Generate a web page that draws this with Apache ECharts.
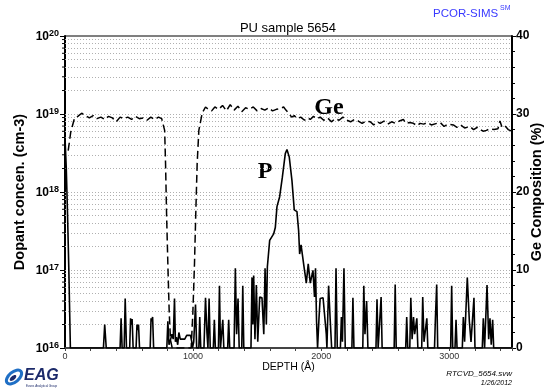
<!DOCTYPE html>
<html>
<head>
<meta charset="utf-8">
<script src="https://cdn.jsdelivr.net/npm/echarts@6/dist/echarts.min.js"></script>
<style>
html,body{margin:0;padding:0;background:#fff;}
#chart{width:548px;height:389px;}
</style>
</head>
<body>
<div id="chart"></div>
<script>
// ---- Data ----
// Phosphorus concentration profile (atoms/cm3) vs depth (Å)
const pDepth = [0,10,20,30,42,300,310,322,430,438,446,462,470,480,505,512,518,524,532,555,562,568,574,582,665,672,678,684,692,795,803,812,825,835,845,855,862,870,880,889,900,915,935,950,965,980,990,
995,1005,1019,1028,1045,1052,1060,1085,1097,1108,1116,1125,1134,1158,1166,1174,1198,1206,1214,1225,1232,1240,1270,1278,1286,1320,1330,1340,1351,1360,1380,1388,1396,
1452,1460,1467,1473,1483,1494,1505,1520,1530,1538,1546,1552,1562,1572,1580,1598,1629,1642,1655,1676,1697,1720,1733,1751,1772,1790,1800,1811,1824,1832,1843,1863,1884,1899,1915,1936,1948,1956,1964,1972,1983,1992,2005,2015,2028,2040,
2045,2058,2070,2082,2108,2116,2126,2150,2158,2166,2178,2188,2240,2248,2256,2325,2333,2342,2355,2365,2428,2436,2445,2460,2468,2476,2570,2578,2586,
2660,2668,2676,2692,2700,2710,2721,2730,2747,2755,2785,2793,2803,2825,2833,2885,2892,2902,2910,3011,3019,3027,3045,3053,3061,
3102,3110,3120,3141,3157,3170,3193,3201,3258,3266,3276,3295,3308,3318,3328,3339,3347,3490];
const pConc = [5e18,2e18,5e17,1e17,1e16,1e16,2e16,1e16,1e16,2.4e16,1e16,1e16,4.3e16,1e16,1e16,2.4e16,2.0e16,2.35e16,1e16,1e16,2e16,1.7e16,2e16,1e16,1e16,2.4e16,2.2e16,2.5e16,1e16,1e16,2.2e16,1.1e16,1.3e16,1.5e16,1.3e16,4.3e16,1.2e16,1.38e16,1.1e16,1.58e16,1.3e16,1.3e16,1.3e16,1.45e16,1.45e16,1.45e16,1.2e16,
1e16,1.2e16,3.6e16,1e16,1e16,2.5e16,1e16,1e16,4.4e16,1.6e16,1e16,4.3e16,1e16,1e16,2.3e16,1e16,1e16,6.3e16,1e16,1e16,2.3e16,1e16,1e16,2.3e16,1e16,1e16,1.05e17,1.5e16,4.3e16,1e16,1e16,6.3e16,1e16,
1e16,8e16,2e16,8.5e16,1.3e16,6.4e16,1.2e16,4.5e16,4.3e16,4.4e16,4.4e16,1.5e16,1.05e17,2e16,1.1e17,2.4e17,2.9e17,3.5e17,6.5e17,8.7e17,1.55e18,3.1e18,3.5e18,2.8e18,1.4e18,5.9e17,6.2e17,5.6e17,3.2e17,1.6e17,2.1e17,1.2e17,6.8e16,1.2e17,6.8e16,9.9e16,4.5e16,1.05e17,2.2e16,1e16,2.4e16,4.3e16,4.2e16,4.4e16,4.3e16,1.5e16,
1e16,6.3e16,2.4e16,1e16,1e16,1.05e17,1e16,1e16,2.5e16,1.2e16,1.05e17,1e16,1e16,4.4e16,1e16,1e16,6.3e16,1.5e16,4e16,1e16,1e16,4.2e16,1e16,1e16,4.5e16,1e16,1e16,6.5e16,1e16,
1e16,2.5e16,1e16,1e16,4.4e16,1.3e16,2.5e16,1.5e16,2.4e16,1e16,1e16,4.5e16,1.2e16,2.4e16,1e16,1e16,2.4e16,6.5e16,1e16,1e16,6.3e16,1e16,1e16,2.3e16,1e16,
1e16,2.5e16,1.2e16,8e16,2.2e16,1.2e16,4.4e16,1e16,1e16,2.4e16,1e16,6.4e16,1.3e16,2.4e16,1.1e16,2.3e16,1e16,1e16];

// Ge composition (%) vs depth (Å)
const geDepth = [25,45,75,100,130,160,190,220,250,280,310,340,370,400,430,460,490,520,550,580,610,640,670,700,730,755,769,778,785,793,803,814,824,837,900,985,998,1011,1021,1032,1045,1071,1097,1120,1145,1170,1200,1230,1260,1290,1320,1350,1380,1410,1440,1470,1500,1530,1560,1590,1620,1650,1680,1707,1725,1746,1770,1790,1811,1840,1870,1895,1915,1940,1965,1993,2020,2050,2080,2110,2140,2170,2201,2230,2260,2290,2320,2350,2383,2410,2440,2461,2490,2520,2550,2580,2610,2642,2660,2690,2720,2750,2772,2800,2830,2860,2903,2930,2960,2990,3032,3060,3090,3120,3162,3190,3220,3240,3266,3290,3318,3350,3380,3396,3410,3430,3460,3487];
const geComp = [25.3,27.7,29.5,29.7,30.1,29.8,29.5,29.8,29.4,29.6,29.3,29.7,29.5,29.0,29.6,29.4,29.6,29.3,29.7,29.4,29.5,29.2,29.6,29.3,29.6,29.4,29.3,27.9,23.7,17.2,10.8,4.4,1.0,0,0,0,4.4,10.8,17.2,23.7,27.9,30.1,30.9,30.6,30.4,30.9,30.6,31.1,30.4,31.2,30.5,31.0,30.3,30.8,30.6,30.9,30.4,30.7,30.5,30.8,30.4,30.6,30.7,30.9,30.5,30.1,29.6,29.8,29.4,29.6,29.2,29.5,29.3,29.7,29.4,29.6,29.2,29.5,29.0,29.4,29.2,29.6,29.2,29.0,29.3,29.1,28.8,29.1,29.0,28.6,29.0,28.8,29.1,28.7,29.0,28.8,29.1,29.3,28.8,28.9,28.8,28.5,28.8,28.7,28.9,28.6,28.8,28.9,28.4,28.7,28.6,28.3,28.6,28.2,28.4,28.0,28.3,28.0,27.8,27.9,28.1,28.0,28.1,29.1,28.4,28.6,28.0,27.8];

// Axis ticks / labels
const xMajorLabels = [0, 1000, 2000, 3000];
const decadeExponents = [16, 17, 18, 19, 20];
const minorMultipliers = [2, 3, 4, 5, 6, 7, 8, 9];
const rightLabels = [0, 10, 20, 30, 40];

// ---- Build ----
const pData = pDepth.map((d, i) => [d, pConc[i]]);
const geData = geDepth.map((d, i) => [d, geComp[i]]);
const gridValues = [];
const minorValues = [];
decadeExponents.forEach(e => {
  if (e < 20) {
    minorMultipliers.forEach(m => { gridValues.push(m * Math.pow(10, e)); minorValues.push(m * Math.pow(10, e)); });
  }
  if (e > 16 && e < 20) gridValues.push(Math.pow(10, e));
});

const chart = echarts.init(document.getElementById('chart'), null, {renderer: 'canvas'});
const FONT = '"Liberation Sans", Arial, sans-serif';
const SERIF = '"Liberation Serif", "Times New Roman", serif';

const option = {
  animation: false,
  backgroundColor: '#fff',
  grid: {left: 65, right: 36, top: 36, bottom: 41, show: true, borderColor: '#000', borderWidth: 1, containLabel: false},
  xAxis: {
    type: 'value', min: 0, max: 3490, interval: 200,
    axisLine: {show: true, lineStyle: {color: '#444', width: 2}},
    axisTick: {show: true, inside: false, length: 3, lineStyle: {color: '#444', width: 1}},
    axisLabel: {
      interval: 0, margin: 4, fontFamily: FONT, fontSize: 9, color: '#333',
      formatter: v => xMajorLabels.indexOf(v) >= 0 ? String(v) : ''
    },
    splitLine: {show: false}
  },
  yAxis: [
    {
      type: 'log', logBase: 10, min: 1e16, max: 1e20, interval: 1,
      position: 'left',
      axisLine: {show: true, lineStyle: {color: '#000', width: 2}},
      axisTick: {show: true, inside: false, length: 5, lineStyle: {color: '#000', width: 1}},
      axisLabel: {
        margin: 6, fontFamily: FONT,
        formatter: v => { const e = Math.round(Math.log10(v)); return decadeExponents.indexOf(e) >= 0 ? '{b|10}{s|' + e + '}' : ''; },
        rich: {
          b: {fontSize: 12, fontWeight: 'bold', fontFamily: FONT, color: '#000', verticalAlign: 'bottom', lineHeight: 14},
          s: {fontSize: 9, fontWeight: 'bold', fontFamily: FONT, color: '#000', verticalAlign: 'top', lineHeight: 14, padding: [0, 0, 10, 0]}
        }
      },
      splitLine: {show: false}
    },
    {
      type: 'value', min: 0, max: 40, interval: 10, position: 'right',
      axisLine: {show: true, lineStyle: {color: '#000', width: 2}},
      axisTick: {show: true, inside: false, length: 4, lineStyle: {color: '#000'}},
      minorTick: {show: true, splitNumber: 5, length: 3, lineStyle: {color: '#000'}},
      axisLabel: {
        margin: 4, fontFamily: FONT, fontSize: 12, fontWeight: 'bold', color: '#000',
        formatter: v => rightLabels.indexOf(v) >= 0 ? String(v) : ''
      },
      splitLine: {show: false}
    }
  ],
  series: [
    {
      type: 'line', name: 'grid', yAxisIndex: 0, data: [], silent: true,
      markLine: {
        silent: true, symbol: ['none', 'none'], animation: false,
        label: {show: false},
        lineStyle: {type: [1, 2], color: '#b0b0b0', width: 1},
        data: gridValues.map(v => ({yAxis: v}))
      }
    },
    {
      type: 'custom', name: 'minorTicks', yAxisIndex: 0, clip: false, silent: true,
      data: minorValues.map(v => [0, v]),
      renderItem: (params, api) => {
        const p = api.coord([0, api.value(1)]);
        return {type: 'line', shape: {x1: p[0] - 3, y1: p[1], x2: p[0], y2: p[1]}, style: {stroke: '#000', lineWidth: 1}};
      }
    },
    {
      type: 'line', name: 'P', yAxisIndex: 0, data: pData, showSymbol: false, symbol: 'none',
      clip: true, lineStyle: {color: '#000', width: 1.6}, z: 5
    },
    {
      type: 'line', name: 'Ge', yAxisIndex: 1, data: geData, showSymbol: false, symbol: 'none',
      clip: true, lineStyle: {color: '#000', width: 1.5, type: [8, 4]}, z: 6
    }
  ],
  graphic: [
    {type: 'text', x: 288, y: 28, style: {text: 'PU sample 5654', font: '13px ' + FONT, fill: '#000', textAlign: 'center', textVerticalAlign: 'middle'}},
    {type: 'text', x: 433, y: 14, style: {text: 'PCOR-SIMS', font: '11.5px ' + FONT, fill: '#3a3aff', textAlign: 'left', textVerticalAlign: 'middle'}},
    {type: 'text', x: 500, y: 8, style: {text: 'SM', font: '7px ' + FONT, fill: '#3a3aff', textAlign: 'left', textVerticalAlign: 'middle'}},
    {type: 'text', x: 265, y: 172, style: {text: 'P', font: 'bold 24px ' + SERIF, fill: '#000', textAlign: 'center', textVerticalAlign: 'middle'}},
    {type: 'text', x: 329, y: 108, style: {text: 'Ge', font: 'bold 24px ' + SERIF, fill: '#000', textAlign: 'center', textVerticalAlign: 'middle'}},
    {type: 'text', x: 20, y: 192, rotation: Math.PI / 2, style: {text: 'Dopant concen. (cm-3)', font: 'bold 14.5px ' + FONT, fill: '#000', textAlign: 'center', textVerticalAlign: 'middle'}},
    {type: 'text', x: 537, y: 192, rotation: Math.PI / 2, style: {text: 'Ge Composition (%)', font: 'bold 14.5px ' + FONT, fill: '#000', textAlign: 'center', textVerticalAlign: 'middle'}},
    {type: 'text', x: 288.5, y: 367, style: {text: 'DEPTH (Å)', font: '10.5px ' + FONT, fill: '#000', textAlign: 'center', textVerticalAlign: 'middle'}},
    {type: 'text', x: 512, y: 374, style: {text: 'RTCVD_5654.svw', font: 'italic 8px ' + FONT, fill: '#000', textAlign: 'right', textVerticalAlign: 'middle'}},
    {type: 'text', x: 512, y: 383, style: {text: '1/26/2012', font: 'italic 7px ' + FONT, fill: '#000', textAlign: 'right', textVerticalAlign: 'middle'}},
    {type: 'ellipse', x: 14, y: 377, rotation: 0.7, shape: {cx: 0, cy: 0, rx: 9, ry: 5}, style: {fill: 'none', stroke: '#1f6fc5', lineWidth: 3}},
    {type: 'ellipse', x: 13, y: 378, rotation: 0.7, shape: {cx: 0, cy: 0, rx: 4, ry: 2}, style: {fill: '#1c2a6a'}},
    {type: 'text', x: 24, y: 376, style: {text: 'EAG', font: 'italic bold 16px ' + FONT, fill: '#1c2a6a', textAlign: 'left', textVerticalAlign: 'middle'}},
    {type: 'text', x: 26, y: 386, style: {text: 'Evans Analytical Group', font: '3px ' + FONT, fill: '#1c2a6a', textAlign: 'left', textVerticalAlign: 'middle'}}
  ]
};
chart.setOption(option);
</script>
</body>
</html>
